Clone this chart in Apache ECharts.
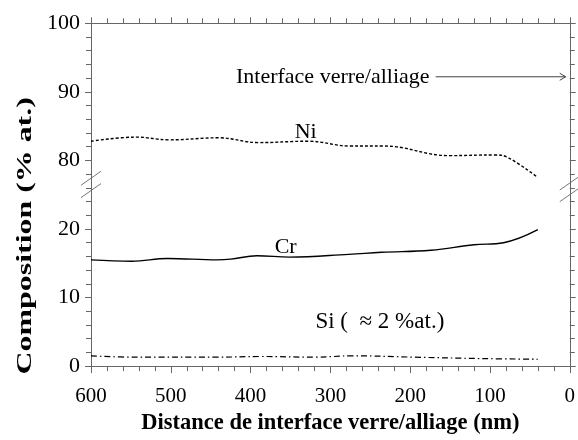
<!DOCTYPE html>
<html>
<head>
<meta charset="utf-8">
<script src="https://cdn.jsdelivr.net/npm/echarts@6/dist/echarts.min.js"></script>
<style>
html,body{margin:0;padding:0;background:#fff;}
#c{width:578px;height:440px;}
</style>
</head>
<body>
<div id="c"></div>
<script>
// ---- data ----
const distNi = [600, 543, 502, 440, 390, 328, 275, 233, 151, 93, 77, 40];
const ni     = [82.8, 83.4, 83.0, 83.3, 82.6, 82.8, 82.1, 82.1, 80.7, 80.8, 80.4, 77.5];
const distCr = [600, 549, 504, 442, 425, 392, 351, 277, 236, 174, 120, 83, 40];
const cr     = [15.5, 15.3, 15.7, 15.5, 15.6, 16.1, 15.9, 16.3, 16.6, 16.9, 17.7, 18.0, 19.9];
const distSi = [600, 545, 442, 388, 318, 273, 194, 111, 40];
const si     = [1.5, 1.3, 1.3, 1.4, 1.3, 1.5, 1.3, 1.1, 1.0];
const xTicks = [600, 500, 400, 300, 200, 100, 0];
const yTickLabels = [0, 10, 20, 80, 90, 100];
// broken axis: upper section (>= 75) drawn shifted down by this amount
const BREAK_SHIFT = 50;

const toAxis = v => v >= 75 ? v - BREAK_SHIFT : v;
const pairs = (xs, ys) => xs.map((x, i) => [x, toAxis(ys[i])]);

const FONT = '"Liberation Serif", "DejaVu Serif", serif';
const AX = '#666';

const chart = echarts.init(document.getElementById('c'), null, {renderer: 'canvas'});

const common = {
  axisLine: {show: true, onZero: false, lineStyle: {color: AX, width: 1}},
  splitLine: {show: false},
};

const option = {
  animation: false,
  backgroundColor: '#fff',
  grid: {left: 91, right: 3.5, top: 23.3, bottom: 69.3, containLabel: false},
  xAxis: [{
    ...common,
    type: 'value', min: 0, max: 600, interval: 100, inverse: true, position: 'bottom',
    axisTick: {show: true, length: 7, lineStyle: {color: AX}},
    minorTick: {show: true, splitNumber: 5, length: 5, lineStyle: {color: AX}},
    axisLabel: {fontFamily: FONT, fontSize: 21, color: '#000', margin: 20,
      formatter: v => xTicks.includes(v) ? String(v) : ''},
    name: 'Distance de interface verre/alliage (nm)',
    nameLocation: 'middle', nameGap: 43,
    nameTextStyle: {fontFamily: FONT, fontSize: 22.5, fontWeight: 'bold', color: '#000'}
  }, {
    ...common,
    type: 'value', min: 0, max: 600, interval: 100, inverse: true, position: 'top',
    axisTick: {show: true, length: 6, lineStyle: {color: AX}},
    minorTick: {show: true, splitNumber: 5, length: 5, lineStyle: {color: AX}},
    axisLabel: {show: false}
  }],
  yAxis: [{
    ...common,
    type: 'value', min: 0, max: 50, interval: 10, position: 'left',
    axisTick: {show: true, length: 6, lineStyle: {color: AX}},
    minorTick: {show: true, splitNumber: 5, length: 5, lineStyle: {color: AX}},
    axisLabel: {fontFamily: FONT, fontSize: 22, color: '#000', margin: 11,
      formatter: v => String(yTickLabels[Math.round(v / 10)])}
  }, {
    ...common,
    type: 'value', min: 0, max: 50, interval: 10, position: 'right',
    axisTick: {show: true, length: 6, lineStyle: {color: AX}},
    minorTick: {show: true, splitNumber: 5, length: 5, lineStyle: {color: AX}},
    axisLabel: {show: false}
  }],
  series: [{
    name: 'Ni', type: 'line', smooth: 0.4, symbol: 'none',
    data: pairs(distNi, ni),
    lineStyle: {color: '#000', width: 1.4, type: [3, 2]}
  }, {
    name: 'Cr', type: 'line', smooth: 0.4, symbol: 'none',
    data: pairs(distCr, cr),
    lineStyle: {color: '#000', width: 1.4, type: 'solid'}
  }, {
    name: 'Si', type: 'line', smooth: 0.4, symbol: 'none',
    data: pairs(distSi, si),
    lineStyle: {color: '#000', width: 1.2, type: [6, 3, 1.5, 3]}
  }]
};
chart.setOption(option);

// annotations placed in data space
const P = (x, y) => chart.convertToPixel({gridIndex: 0}, [x, toAxis(y)]);
const pNi = P(331, 84.1);
const pCr = P(356, 17.3);
const pSi = P(238, 6.4);
const pTxt = P(297, 92.1);
const aS = P(168, 92.2), aE = P(5, 92.2);
const bL1 = P(600, 27.4), bL2 = P(600, 25.6);
const bR1 = P(0, 26.7), bR2 = P(0, 25.0);
const yMid = P(600, 19.0);

const brk = (c) => ({
  type: 'line', silent: true,
  shape: {x1: c[0] - 10, y1: c[1] + 7, x2: c[0] + 10, y2: c[1] - 7},
  style: {stroke: '#777', lineWidth: 1}
});
const txt = (c, s, opts) => ({
  type: 'text', silent: true, x: c[0], y: c[1],
  style: Object.assign({text: s, fontFamily: FONT, fontSize: 22, fill: '#000',
    align: 'center', verticalAlign: 'middle'}, opts || {})
});

chart.setOption({
  graphic: [
    brk(bL1), brk(bL2), brk(bR1), brk(bR2),
    txt(pNi, 'Ni'),
    txt(pCr, 'Cr'),
    txt(pSi, 'Si (  ≈ 2 %at.)', {fontSize: 23}),
    txt(pTxt, 'Interface verre/alliage'),
    {type: 'line', silent: true, shape: {x1: aS[0], y1: aS[1], x2: aE[0], y2: aE[1]},
      style: {stroke: '#444', lineWidth: 1}},
    {type: 'polyline', silent: true,
      shape: {points: [[aE[0] - 6, aE[1] - 3.5], [aE[0], aE[1]], [aE[0] - 6, aE[1] + 3.5]]},
      style: {stroke: '#444', lineWidth: 1, fill: null}},
    {type: 'text', silent: true, x: 25, y: yMid[1], rotation: Math.PI / 2, scaleX: 1.45,
      style: {text: 'Composition (% at.)', fontFamily: FONT, fontSize: 22, fontWeight: 'bold',
        fill: '#000', align: 'center', verticalAlign: 'middle'}}
  ]
});
</script>
</body>
</html>
